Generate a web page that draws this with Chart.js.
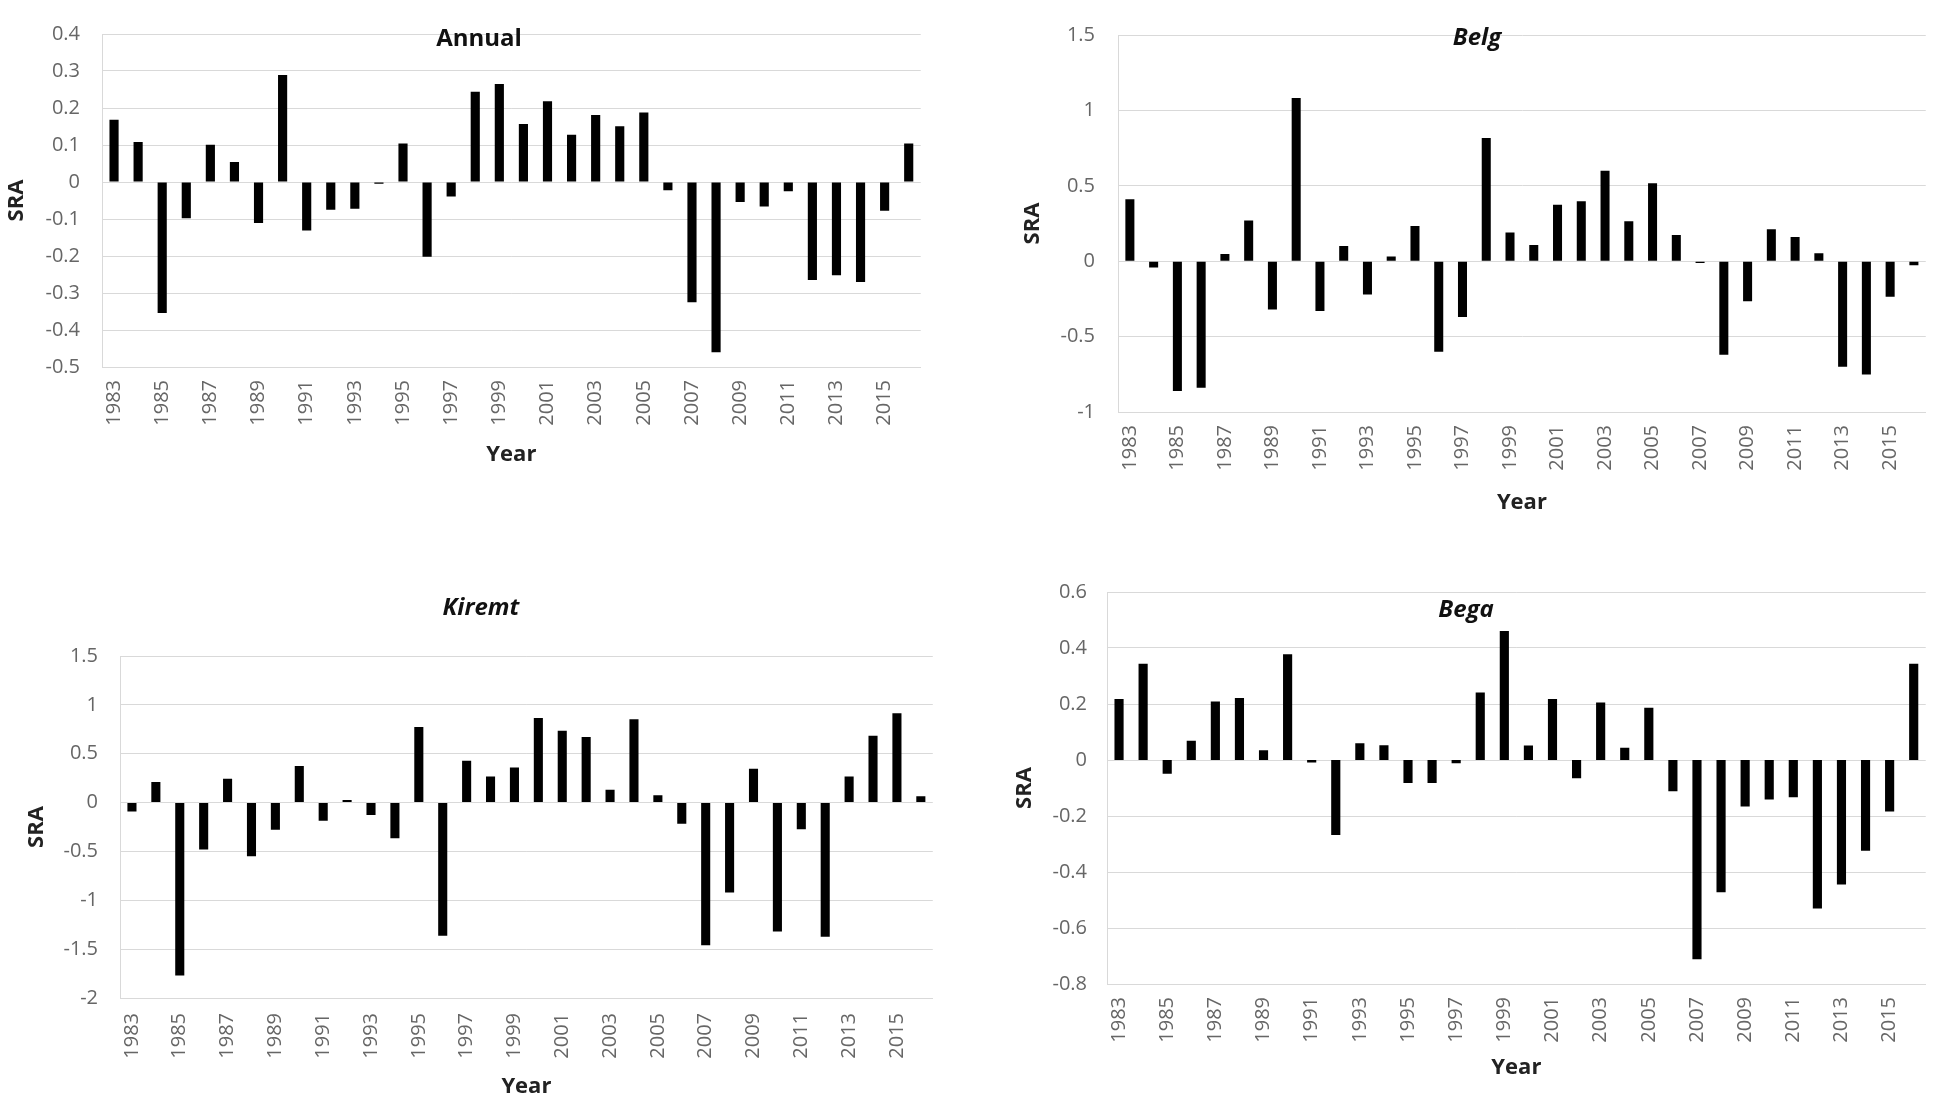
<!DOCTYPE html>
<html>
<head>
<meta charset="utf-8">
<title>SRA by season</title>
<script src="https://cdn.jsdelivr.net/npm/chart.js@4.4.1/dist/chart.umd.min.js"></script>
<style>
  html, body { margin: 0; padding: 0; background: #fff; }
  body { width: 1951px; height: 1116px; position: relative; overflow: hidden; }
  .panel { position: absolute; }
</style>
</head>
<body>
<div class="panel" style="left:0px;top:0px;width:946px;height:475px"><canvas id="annualChart"></canvas></div>
<div class="panel" style="left:1000px;top:0px;width:951px;height:520px"><canvas id="belgChart"></canvas></div>
<div class="panel" style="left:0px;top:580px;width:960px;height:530px"><canvas id="kiremtChart"></canvas></div>
<div class="panel" style="left:1000px;top:560px;width:951px;height:540px"><canvas id="begaChart"></canvas></div>
<script>
(function () {
  'use strict';

  const years = [
    '1983', '1984', '1985', '1986', '1987', '1988', '1989', '1990', '1991', '1992',
    '1993', '1994', '1995', '1996', '1997', '1998', '1999', '2000', '2001', '2002',
    '2003', '2004', '2005', '2006', '2007', '2008', '2009', '2010', '2011', '2012',
    '2013', '2014', '2015', '2016',
  ];

  const annualSRA = [
    0.168, 0.108, -0.354, -0.098, 0.101, 0.054, -0.111, 0.289, -0.131, -0.075,
    -0.072, -0.005, 0.104, -0.202, -0.039, 0.244, 0.265, 0.157, 0.218, 0.128,
    0.181, 0.151, 0.188, -0.022, -0.325, -0.46, -0.054, -0.066, -0.025, -0.265,
    -0.252, -0.27, -0.078, 0.104,
  ];

  const belgSRA = [
    0.41, -0.042, -0.86, -0.84, 0.048, 0.27, -0.32, 1.083, -0.33, 0.10,
    -0.22, 0.031, 0.233, -0.60, -0.37, 0.817, 0.19, 0.108, 0.375, 0.398,
    0.60, 0.265, 0.517, 0.173, -0.012, -0.62, -0.265, 0.212, 0.16, 0.052,
    -0.70, -0.752, -0.235, -0.027,
  ];

  const kiremtSRA = [
    -0.092, 0.21, -1.77, -0.48, 0.243, -0.55, -0.277, 0.373, -0.185, 0.027,
    -0.127, -0.366, 0.774, -1.363, 0.428, 0.267, 0.36, 0.866, 0.736, 0.671,
    0.13, 0.853, 0.075, -0.216, -1.46, -0.92, 0.346, -1.32, -0.274, -1.373,
    0.267, 0.685, 0.914, 0.065,
  ];

  const begaSRA = [
    0.218, 0.344, -0.049, 0.069, 0.209, 0.221, 0.035, 0.378, -0.009, -0.268,
    0.06, 0.053, -0.082, -0.082, -0.012, 0.241, 0.461, 0.052, 0.218, -0.065,
    0.205, 0.044, 0.187, -0.112, -0.712, -0.472, -0.166, -0.141, -0.133, -0.53,
    -0.445, -0.324, -0.184, 0.344,
  ];

  const FONT = '"Open Sans", "Liberation Sans", sans-serif';
  const GRID = '#d9d9d9';
  const TICK = '#666666';

  Chart.defaults.font.family = FONT;

  // panel title sits inside the plot like the Excel original, so draw it by hand
  const panelTitle = {
    id: 'panelTitle',
    afterDatasetsDraw(chart, args, opts) {
      const ctx = chart.ctx;
      ctx.save();
      ctx.font = (opts.italic ? 'italic ' : '') + 'bold 24px ' + FONT;
      ctx.fillStyle = '#111';
      ctx.textAlign = 'center';
      ctx.textBaseline = 'middle';
      ctx.fillText(opts.text, opts.x, opts.y);
      ctx.restore();
    },
  };

  function makePanel(id, values, cfg) {
    return new Chart(document.getElementById(id), {
      type: 'bar',
      data: {
        labels: years,
        datasets: [{
          data: values,
          backgroundColor: '#000',
          borderWidth: 0,
          barPercentage: 0.38,
          categoryPercentage: 1.0,
        }],
      },
      plugins: [panelTitle],
      options: {
        responsive: true,
        maintainAspectRatio: false,
        animation: false,
        layout: { padding: { top: cfg.top, right: cfg.right, left: 0, bottom: 0 } },
        plugins: {
          legend: { display: false },
          tooltip: { enabled: false },
          panelTitle: { text: cfg.title, italic: cfg.italic, x: cfg.titleX, y: cfg.titleY },
        },
        scales: {
          x: {
            grid: { display: false, drawTicks: false },
            border: { display: true, color: GRID },
            ticks: {
              autoSkip: false,
              minRotation: 90,
              maxRotation: 90,
              padding: cfg.xTickPad,
              color: TICK,
              font: { size: 20 },
              callback: (v, i) => (i % 2 === 0 ? years[i] : ''),
            },
            title: {
              display: true,
              text: 'Year',
              color: '#222',
              font: { size: 22, weight: 'bold' },
              padding: { top: 0, bottom: cfg.yearPad },
            },
            afterFit: (scale) => { scale.height = cfg.xHeight; },
          },
          y: {
            min: cfg.min,
            max: cfg.max,
            grid: { color: GRID, drawTicks: false },
            border: { display: true, color: GRID },
            ticks: {
              stepSize: cfg.step,
              padding: cfg.yTickPad,
              color: TICK,
              font: { size: 20 },
              callback: (v) => String(Math.round(v * 10) / 10),
            },
            title: {
              display: true,
              text: 'SRA',
              color: '#222',
              font: { size: 22, weight: 'bold' },
              padding: { top: cfg.sraPad, bottom: 0 },
            },
            afterFit: (scale) => { scale.width = cfg.yWidth; },
          },
        },
      },
    });
  }

  makePanel('annualChart', annualSRA, {
    title: 'Annual', italic: false, titleX: 479, titleY: 39,
    min: -0.5, max: 0.4, step: 0.1,
    top: 19, right: 20, yWidth: 102, xHeight: 108,
    yTickPad: 22, xTickPad: 13, sraPad: 4, yearPad: 7,
  });

  makePanel('belgChart', belgSRA, {
    title: 'Belg', italic: true, titleX: 477, titleY: 38,
    min: -1, max: 1.5, step: 0.5,
    top: 15, right: 7, yWidth: 118, xHeight: 108,
    yTickPad: 23, xTickPad: 13, sraPad: 20, yearPad: 4,
  });

  makePanel('kiremtChart', kiremtSRA, {
    title: 'Kiremt', italic: true, titleX: 481, titleY: 28,
    min: -2, max: 1.5, step: 0.5,
    top: 76, right: 11, yWidth: 120, xHeight: 112,
    yTickPad: 22, xTickPad: 15, sraPad: 24, yearPad: 10,
  });

  makePanel('begaChart', begaSRA, {
    title: 'Bega', italic: true, titleX: 466, titleY: 50,
    min: -0.8, max: 0.6, step: 0.2,
    top: 26, right: 20, yWidth: 107, xHeight: 116,
    yTickPad: 20, xTickPad: 13, sraPad: 12, yearPad: 19,
  });
})();
</script>
</body>
</html>
